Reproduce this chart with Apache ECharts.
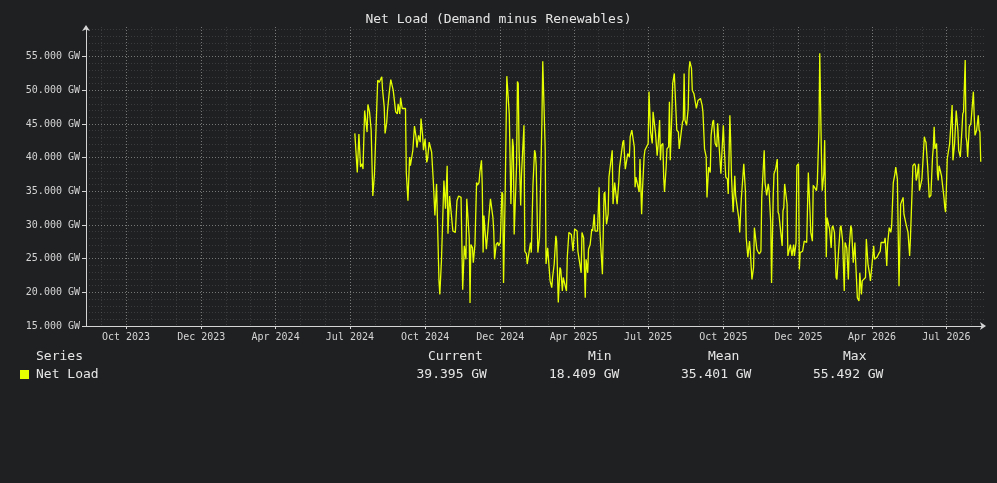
<!DOCTYPE html>
<html>
<head>
<meta charset="utf-8">
<script src="https://cdn.jsdelivr.net/npm/echarts@6/dist/echarts.min.js"></script>
<style>
html,body{margin:0;padding:0;background:#1f2022;}
#chart{width:997px;height:483px;}
</style>
</head>
<body>
<div id="chart"></div>
<script>
const chartTitle = 'Net Load (Demand minus Renewables)';
const seriesName = 'Net Load';
const axisStart = '2023-08-13';
const axisEnd = '2026-08-16';
const dataStart = '2024-07-07';

const tickLabels = ['Oct 2023','Dec 2023','Apr 2024','Jul 2024','Oct 2024','Dec 2024',
  'Apr 2025','Jul 2025','Oct 2025','Dec 2025','Apr 2026','Jul 2026'];

// days after dataStart
const dayOffsets = [
0,3,5,7,9,10,12,14,15,16,18,20,22,24,26,28,30,31,33,34,36,37,39,40,42,44,45,47,49,50,
52,53,55,56,58,60,62,63,65,67,68,70,71,73,75,76,78,80,81,83,84,86,88,89,91,93,94,96,98,100,
101,103,104,106,108,109,111,113,114,116,118,120,121,123,125,127,129,130,132,134,136,137,139,140,141,142,144,145,147,149,
150,152,153,155,156,157,158,160,161,162,164,166,167,169,170,171,173,175,176,178,180,181,182,184,186,187,189,190,191,193,
194,195,198,199,200,201,203,204,206,207,208,210,211,213,215,216,218,220,221,222,224,226,227,229,230,231,233,234,236,238,
239,241,242,244,246,247,249,251,252,254,255,257,259,260,262,264,265,267,269,270,272,273,275,277,278,280,282,283,285,286,
288,290,291,293,294,296,297,299,300,302,303,305,306,308,310,311,313,315,316,318,320,321,323,324,326,328,329,331,333,334,
336,337,339,341,342,343,344,346,348,349,351,352,354,355,357,359,360,361,362,364,365,366,368,370,371,373,374,375,377,378,
379,381,382,384,385,386,388,389,391,393,394,396,397,399,401,402,403,404,406,408,409,410,412,413,415,417,418,420,421,423,
425,426,428,430,431,433,435,436,438,439,441,443,444,446,448,449,451,452,454,456,457,459,460,461,463,465,466,468,470,471,
473,475,476,478,479,481,483,484,486,488,489,490,492,493,495,497,498,499,501,502,503,504,506,507,509,510,512,513,514,515,
517,518,519,521,523,524,525,526,528,529,530,532,533,535,537,538,540,541,543,544,545,547,548,550,552,553,555,557,558,560,
561,563,565,566,568,569,570,571,572,574,575,577,578,579,580,581,583,584,585,587,589,590,592,594,595,597,599,600,602,604,
605,607,608,610,612,613,615,617,618,620,621,623,625,626,628,630,631,633,635,636,638,639,641,643,644,646,648,649,651,652,
654,656,657,659,661,662,664,666,667,668,670,671,672,674,675,677,679,680,682,683,685,686,687,688,690,691,692,694,695,697,
698,699,701,702,703,704,705,707,708,709,710,712,713,714,715,717,718,719,721,722,723,724,725,727,728,730,731,732,733,734,
736,737,738,739,741,742,743,744,745,747,748,749,750,752,753,754,755,757,758,759,760,761,763,764,765,766
];

// GW
const netLoad = [
43.6,37.8,43.5,38.6,39.1,38.3,47.0,47.2,43.8,47.9,46.8,44.1,34.3,37.5,37.6,51.5,51.2,51.5,52.0,50.0,47.5,43.6,45.2,47.0,49.5,51.6,51.5,50.0,49.8,46.8,
46.5,48.0,46.5,48.9,47.3,47.1,47.3,37.8,33.6,40.1,38.8,38.8,41.1,44.7,43.0,41.5,43.3,42.3,45.8,43.3,41.1,42.8,39.3,39.8,42.3,42.3,40.8,36.6,31.4,36.1,
36.2,21.7,19.7,24.7,24.7,36.6,32.4,38.8,28.7,34.3,34.1,29.1,29.0,28.9,33.6,34.3,34.3,34.1,20.4,26.9,24.9,33.9,34.1,28.1,18.409,27.1,26.6,24.4,27.1,36.3,
35.9,36.3,37.8,39.6,35.6,25.9,31.4,31.4,26.4,26.6,31.1,33.9,34.1,31.1,29.1,24.9,27.1,27.4,26.9,27.4,34.9,34.6,21.4,34.6,52.1,52.3,46.5,40.1,33.1,42.8,
41.6,28.6,39.1,51.3,51.0,41.1,32.9,37.6,37.8,44.8,26.1,25.7,24.2,24.2,27.4,25.9,35.9,41.1,40.6,38.8,25.9,28.1,27.9,45.6,54.3,54.3,41.1,24.2,26.6,26.4,
21.7,20.7,22.2,24.2,28.4,27.6,18.5,23.7,23.4,20.2,22.2,22.2,20.2,25.2,28.9,28.9,28.6,26.1,29.4,29.4,29.1,26.1,26.1,22.9,28.9,28.1,19.2,24.9,22.9,26.4,
27.1,29.4,29.1,31.6,29.1,28.9,29.1,35.6,28.9,28.9,22.7,34.6,34.9,30.1,31.6,37.1,37.1,41.1,33.1,36.3,36.3,33.1,36.3,38.6,38.8,42.3,42.6,38.3,38.1,40.6,
40.1,43.1,44.1,44.3,41.6,35.6,37.1,37.1,34.9,39.8,31.6,35.1,40.1,41.1,41.3,42.1,49.8,50.0,43.8,42.1,46.8,47.0,43.6,40.3,41.6,45.6,39.6,41.8,42.1,37.1,
34.9,38.6,41.3,41.6,48.3,39.6,46.5,51.0,52.5,52.3,44.1,43.8,41.3,41.1,45.3,45.6,52.5,45.6,44.8,47.3,53.0,54.3,53.3,50.0,49.5,49.3,47.3,48.5,48.3,48.8,
47.8,46.8,41.3,40.1,34.1,38.6,37.8,43.3,45.3,45.6,42.1,41.6,45.1,45.2,37.6,40.1,44.8,41.6,37.1,36.8,34.6,46.3,42.3,37.1,31.9,37.3,34.4,34.4,30.9,28.9,
33.9,34.1,39.1,35.1,28.1,25.2,27.6,26.1,21.9,23.7,29.6,29.4,26.4,26.1,25.7,26.1,34.1,34.1,41.1,36.3,36.1,34.4,36.1,35.1,30.4,21.4,34.1,37.6,37.8,38.3,
39.8,31.9,31.6,31.4,26.9,32.1,32.6,36.1,36.1,33.1,25.4,25.4,27.1,25.4,27.1,25.4,27.4,38.8,39.1,23.4,25.9,25.9,26.1,27.6,27.4,27.4,37.8,32.1,28.9,27.6,
35.9,35.9,35.1,36.3,44.3,55.492,55.3,40.6,35.1,37.6,42.6,25.2,31.1,30.9,29.9,29.4,26.6,29.6,29.9,28.9,22.2,21.9,26.1,29.6,29.9,27.6,20.2,27.4,26.6,21.9,
26.6,29.9,29.4,24.4,27.4,24.4,19.2,18.7,22.9,19.7,21.7,21.7,22.2,27.9,24.2,22.7,21.7,24.2,26.9,24.9,24.9,25.2,25.7,26.1,27.4,27.4,27.4,28.1,23.9,27.1,
29.6,28.9,29.9,36.3,37.6,38.6,36.8,20.9,20.7,33.1,33.1,34.1,31.6,31.6,29.9,28.9,25.4,28.1,35.1,38.8,39.1,38.8,36.6,37.1,39.1,35.1,35.1,36.8,36.8,43.1,
42.6,42.3,38.8,38.8,34.1,34.1,34.4,40.1,41.6,44.6,41.3,42.1,37.6,36.6,38.8,38.8,37.3,37.1,34.1,32.6,31.9,35.6,39.8,39.8,42.1,42.3,47.8,39.6,39.8,42.1,
47.0,46.8,44.1,41.1,40.1,40.3,44.1,46.5,46.8,54.5,43.1,42.3,40.1,44.6,44.8,45.1,45.3,49.8,46.3,43.3,43.3,44.1,46.3,44.1,43.8,39.395
];

const statHeaders = ['Current','Min','Mean','Max'];
const statValues = ['39.395 GW','18.409 GW','35.401 GW','55.492 GW'];

const MONO = '"DejaVu Sans Mono", "Liberation Mono", monospace';
const LINE_COLOR = '#e6ff00';
const AXIS_COLOR = '#d4d4d4';
const TEXT_COLOR = '#e6e6e6';

const DAY = 86400000;
function parseDay(s){ const p = s.split('-').map(Number); return Date.UTC(p[0], p[1]-1, p[2]); }
function fmtDay(t){ const d = new Date(t); return d.getUTCFullYear() + '-' + String(d.getUTCMonth()+1).padStart(2,'0') + '-' + String(d.getUTCDate()).padStart(2,'0'); }

const categories = [];
for (let t = parseDay(axisStart); t <= parseDay(axisEnd); t += DAY) categories.push(fmtDay(t));
const startIdx = categories.indexOf(dataStart);
const seriesData = categories.map(() => null);
dayOffsets.forEach((d, i) => { seriesData[startIdx + d] = netLoad[i]; });

const isMonthStart = (i, v) => v.slice(8) === '01';
const isQuarterStart = (i, v) => v.slice(8) === '01' && ['01','04','07','10'].indexOf(v.slice(5,7)) >= 0;
const quarterDates = categories.filter((v, i) => isQuarterStart(i, v));
const labelFor = {};
quarterDates.forEach((v, i) => { labelFor[v] = tickLabels[i] || ''; });

const chart = echarts.init(document.getElementById('chart'), null, {renderer: 'canvas'});

const headerX = [428, 588, 708, 843];
const valueX = [416.5, 549, 681, 813];
const headerTop = 350;
const valueTop = 368;
const graphics = [
  {type:'text', left: 36, top: headerTop, style:{text:'Series', font:'13px ' + MONO, fill: TEXT_COLOR}},
  {type:'rect', left: 20, top: 370, shape:{width: 9, height: 9}, style:{fill: LINE_COLOR}},
  {type:'text', left: 36, top: valueTop, style:{text: seriesName, font:'13px ' + MONO, fill: TEXT_COLOR}}
];
statHeaders.forEach((h, i) => {
  graphics.push({type:'text', left: headerX[i], top: headerTop, style:{text: h, font:'13px ' + MONO, fill: TEXT_COLOR}});
  graphics.push({type:'text', left: valueX[i], top: valueTop, style:{text: statValues[i], font:'13px ' + MONO, fill: TEXT_COLOR}});
});

const majorGrid = {color: 'rgba(255,255,255,0.30)', width: 1, type: [1, 2]};
const minorGrid = {color: 'rgba(255,255,255,0.12)', width: 1, type: [1, 2]};

chart.setOption({
  backgroundColor: '#1f2022',
  animation: false,
  title: {
    text: chartTitle, left: 'center', top: 13, padding: 0,
    textStyle: {fontFamily: MONO, fontSize: 13, fontWeight: 'normal', color: TEXT_COLOR}
  },
  grid: {left: 86, right: 13, top: 27, bottom: 157, containLabel: false, outerBoundsMode: 'none'},
  xAxis: [{
    type: 'category', data: categories, boundaryGap: false,
    axisLine: {show: true, onZero: false, lineStyle: {color: AXIS_COLOR, width: 1},
      symbol: ['none', 'arrow'], symbolSize: [6, 6], symbolOffset: [0, 2]},
    axisTick: {show: true, interval: isQuarterStart, length: 3, lineStyle: {color: AXIS_COLOR}},
    axisLabel: {show: true, interval: isQuarterStart, formatter: (v) => labelFor[v] || '',
      color: AXIS_COLOR, fontFamily: MONO, fontSize: 10, margin: 6},
    splitLine: {show: true, interval: isQuarterStart, lineStyle: majorGrid}
  }, {
    type: 'category', data: categories, boundaryGap: false, position: 'bottom',
    axisLine: {show: false}, axisTick: {show: false}, axisLabel: {show: false},
    splitLine: {show: true, interval: isMonthStart, lineStyle: minorGrid}
  }],
  yAxis: [{
    type: 'value', min: 15, max: 59.4, interval: 5,
    axisLine: {show: true, onZero: false, lineStyle: {color: AXIS_COLOR, width: 1},
      symbol: ['none', 'arrow'], symbolSize: [6, 6], symbolOffset: [0, 2]},
    axisTick: {show: true, length: 4, lineStyle: {color: AXIS_COLOR}},
    axisLabel: {show: true, showMaxLabel: false, color: AXIS_COLOR, fontFamily: MONO, fontSize: 10, margin: 6,
      formatter: (v) => (Math.abs(v % 5) < 1e-6 ? v.toFixed(3) + ' GW' : '')},
    splitLine: {show: true, showMaxLine: false, lineStyle: majorGrid}
  }, {
    type: 'value', min: 15, max: 59.4, interval: 1, position: 'left',
    axisLine: {show: false}, axisTick: {show: false}, axisLabel: {show: false},
    splitLine: {show: true, showMaxLine: false, lineStyle: minorGrid}
  }],
  series: [{
    name: seriesName, type: 'line', xAxisIndex: 0, yAxisIndex: 0,
    data: seriesData, connectNulls: true, showSymbol: false, symbol: 'none',
    lineStyle: {color: LINE_COLOR, width: 1.3}, itemStyle: {color: LINE_COLOR}, z: 5
  }],
  graphic: graphics
});
</script>
</body>
</html>
